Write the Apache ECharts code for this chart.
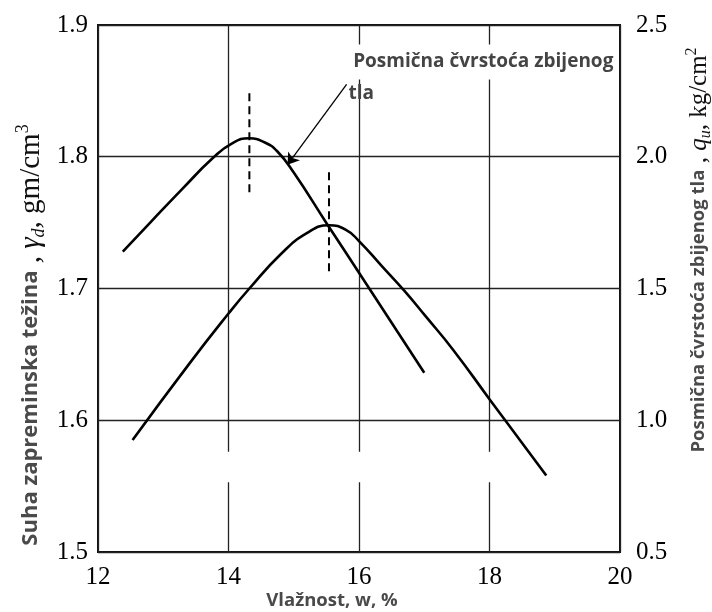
<!DOCTYPE html>
<html>
<head>
<meta charset="utf-8">
<script src="https://cdn.jsdelivr.net/npm/echarts@6/dist/echarts.min.js"></script>
<style>html,body{margin:0;padding:0;background:#fff}#c{width:712px;height:612px}</style>
</head>
<body>
<div id="c"></div>
<script>
// Moisture content w (%) – x axis
var xTicks = [12, 14, 16, 18, 20];
var leftTicks = [1.5, 1.6, 1.7, 1.8, 1.9];
var rightTicks = [0.5, 1.0, 1.5, 2.0, 2.5];

// Curve B: dry unit weight γd (left axis)
var wDry = [12.53, 13.4, 14.0, 14.32, 14.8, 15.2, 15.54, 15.8, 16.0, 16.35, 16.7, 17.02, 17.45, 18.0, 18.24, 18.87];
var gammaDry = [1.585, 1.643, 1.681, 1.700, 1.726, 1.742, 1.748, 1.7445, 1.736, 1.717, 1.698, 1.679, 1.653, 1.616, 1.600, 1.558];

// Curve A: shear strength qu (right axis)
var wShear = [12.38, 12.8, 13.3, 13.76, 14.05, 14.32, 14.55, 14.75, 15.0, 15.51, 16.0, 16.5, 17.0];
var quShear = [1.64, 1.75, 1.88, 1.995, 2.05, 2.07, 2.055, 2.02, 1.94, 1.745, 1.56, 1.37, 1.18];

// Dashed markers at optimum moisture (left axis units)
var dash1W = [14.32, 14.32], dash1Y = [1.773, 1.849];
var dash2W = [15.54, 15.54], dash2Y = [1.713, 1.789];

// Annotation arrow (left axis units)
var arrowFrom = [15.81, 1.855], arrowTo = [14.905, 1.794];
var annotLine1 = 'Posmična čvrstoća zbijenog';
var annotLine2 = 'tla';
var annotPos1 = [15.88, 1.872], annotPos2 = [15.84, 1.848];

function zip(a, b) { return a.map(function (v, i) { return [v, b[i]]; }); }

var chart = echarts.init(document.getElementById('c'), null, {renderer: 'canvas'});
var tickFont = {fontFamily: 'Liberation Serif', fontSize: 25, color: '#000'};
var gridLine = {show: true, lineStyle: {color: '#222', width: 1.3}};

chart.setOption({
  animation: false,
  backgroundColor: '#fff',
  grid: {left: 98, right: 92, top: 25, bottom: 60, show: true, borderColor: '#111', borderWidth: 2, backgroundColor: 'transparent'},
  xAxis: {
    type: 'value', min: xTicks[0], max: xTicks[xTicks.length - 1], interval: 2,
    axisLine: {show: false}, axisTick: {show: false},
    axisLabel: Object.assign({margin: 13, formatter: function (v) { return String(v); }}, tickFont),
    splitLine: gridLine
  },
  yAxis: [{
    type: 'value', min: leftTicks[0], max: leftTicks[leftTicks.length - 1], interval: 0.1,
    axisLine: {show: false}, axisTick: {show: false},
    axisLabel: Object.assign({margin: 10, formatter: function (v) { return v.toFixed(1); }}, tickFont),
    splitLine: gridLine
  }, {
    type: 'value', min: rightTicks[0], max: rightTicks[rightTicks.length - 1], interval: 0.5,
    position: 'right',
    axisLine: {show: false}, axisTick: {show: false},
    axisLabel: Object.assign({margin: 16, formatter: function (v) { return v.toFixed(1); }}, tickFont),
    splitLine: {show: false}
  }],
  series: [{
    name: 'gap', type: 'line', data: [], yAxisIndex: 0, silent: true,
    markArea: {silent: true, itemStyle: {color: '#fff'}, data: [[{coord: [13.9, 1.553]}, {coord: [18.1, 1.576]}]]}
  }, {
    name: 'dry', type: 'line', yAxisIndex: 0, data: zip(wDry, gammaDry),
    smooth: 0.5, showSymbol: false, lineStyle: {color: '#000', width: 2.6}
  }, {
    name: 'shear', type: 'line', yAxisIndex: 1, data: zip(wShear, quShear),
    smooth: 0.5, showSymbol: false, lineStyle: {color: '#000', width: 2.6}
  }, {
    name: 'dash1', type: 'line', yAxisIndex: 0, data: zip(dash1W, dash1Y),
    showSymbol: false, lineStyle: {color: '#000', width: 2, type: [8, 5]}
  }, {
    name: 'dash2', type: 'line', yAxisIndex: 0, data: zip(dash2W, dash2Y),
    showSymbol: false, lineStyle: {color: '#000', width: 2, type: [8, 5]},
    markLine: {
      silent: true, symbol: ['none', 'arrow'], symbolSize: 11,
      lineStyle: {color: '#000', width: 1.3, type: 'solid'}, label: {show: false},
      data: [[{coord: arrowFrom}, {coord: arrowTo}]]
    },
    markPoint: {
      silent: true, symbol: 'circle', symbolSize: 0,
      data: [{
        coord: annotPos1,
        label: {show: true, position: 'inside', align: 'left', verticalAlign: 'middle', formatter: annotLine1,
          fontFamily: 'Open Sans', fontWeight: 'bold', fontSize: 19, color: '#444', lineHeight: 22,
          backgroundColor: '#fff', padding: [0, 4, 13, 2]}
      }, {
        coord: annotPos2,
        label: {show: true, position: 'inside', align: 'left', verticalAlign: 'middle', formatter: annotLine2,
          fontFamily: 'Open Sans', fontWeight: 'bold', fontSize: 19, color: '#444'}
      }]
    }
  }],
  graphic: [{
    type: 'text', x: 31, y: 335, rotation: Math.PI / 2,
    style: {
      text: '{b|Suha zapreminska težina}{s| , }{i|γ}{sub|d}{s|, gm/cm}{sup|3}',
      align: 'center', verticalAlign: 'middle',
      rich: {
        b: {fontFamily: 'Open Sans', fontWeight: 'bold', fontSize: 22, fill: '#4a4a4a', lineHeight: 34},
        s: {fontFamily: 'Liberation Serif', fontSize: 29, fill: '#111', lineHeight: 34},
        i: {fontFamily: 'Liberation Serif', fontStyle: 'italic', fontSize: 29, fill: '#111', lineHeight: 34},
        sub: {fontFamily: 'Liberation Serif', fontStyle: 'italic', fontSize: 18, fill: '#111', lineHeight: 34, verticalAlign: 'bottom'},
        sup: {fontFamily: 'Liberation Serif', fontSize: 18, fill: '#111', lineHeight: 34, verticalAlign: 'top'}
      }
    }
  }, {
    type: 'text', x: 699, y: 250, rotation: Math.PI / 2,
    style: {
      text: '{b|Posmična čvrstoća zbijenog tla}{s| , }{i|q}{sub|u}{s|, kg/cm}{sup|2}',
      align: 'center', verticalAlign: 'middle',
      rich: {
        b: {fontFamily: 'Open Sans', fontWeight: 'bold', fontSize: 18.5, fill: '#4a4a4a', lineHeight: 30},
        s: {fontFamily: 'Liberation Serif', fontSize: 25, fill: '#111', lineHeight: 30},
        i: {fontFamily: 'Liberation Serif', fontStyle: 'italic', fontSize: 25, fill: '#111', lineHeight: 30},
        sub: {fontFamily: 'Liberation Serif', fontStyle: 'italic', fontSize: 16, fill: '#111', lineHeight: 30, verticalAlign: 'bottom'},
        sup: {fontFamily: 'Liberation Serif', fontSize: 16, fill: '#111', lineHeight: 30, verticalAlign: 'top'}
      }
    }
  }, {
    type: 'text', x: 332, y: 601,
    style: {
      text: '{b|Vlažnost, w, %}', align: 'center', verticalAlign: 'middle',
      rich: {b: {fontFamily: 'Open Sans', fontWeight: 'bold', fontSize: 18.5, fill: '#4a4a4a'}}
    }
  }]
});
</script>
</body>
</html>
